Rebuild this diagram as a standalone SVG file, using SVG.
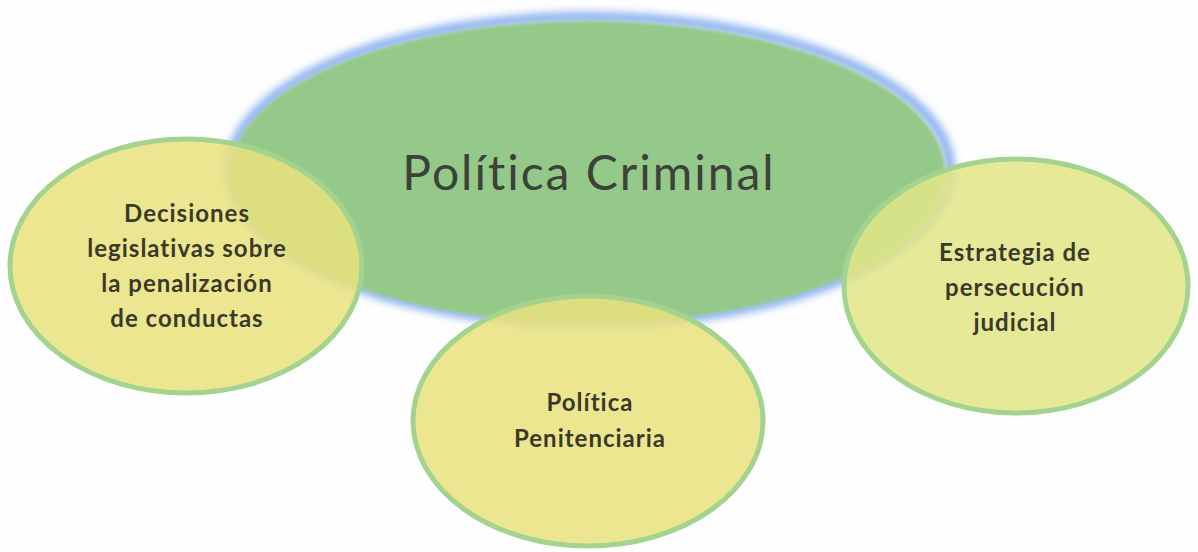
<svg xmlns="http://www.w3.org/2000/svg" width="1198" height="552" viewBox="0 0 1198 552">
<style>
.sub{fill:#e9e27c;fill-opacity:0.85;stroke:#a3d38e;stroke-width:5}
.lbl{font-family:Lato,"Open Sans","Liberation Sans",sans-serif;font-weight:700;font-size:24px;letter-spacing:1px;fill:#3b3a2a;text-anchor:middle;font-variant-ligatures:none}
.main{font-family:Lato,"Open Sans","Liberation Sans",sans-serif;font-size:48px;letter-spacing:2px;fill:#3d4238;text-anchor:middle;font-variant-ligatures:none}
</style>
<defs>
<filter id="blur" x="-10%" y="-10%" width="120%" height="120%"><feGaussianBlur stdDeviation="4"/></filter>
<filter id="soft" x="-10%" y="-10%" width="120%" height="120%"><feGaussianBlur stdDeviation="1.5"/></filter>
</defs>
<rect width="1198" height="552" fill="#fefefe"/>
<g id="politica-criminal">
<ellipse cx="590" cy="170" rx="360" ry="153" fill="none" stroke="#7aa6ec" stroke-width="9" filter="url(#blur)"/>
<ellipse cx="588" cy="172" rx="357" ry="151" fill="#94c98a" filter="url(#soft)"/>
<text class="main" x="589" y="190">Política Criminal</text>
</g>
<g id="decisiones">
<ellipse class="sub" cx="186" cy="266" rx="176" ry="127"/>
<text class="lbl" x="187" y="222">Decisiones</text>
<text class="lbl" x="187" y="257">legislativas sobre</text>
<text class="lbl" x="187" y="292">la penalización</text>
<text class="lbl" x="187" y="327">de conductas</text>
</g>
<g id="penitenciaria">
<ellipse class="sub" cx="588" cy="421" rx="175" ry="125"/>
<text class="lbl" x="590" y="411">Política</text>
<text class="lbl" x="590" y="447">Penitenciaria</text>
</g>
<g id="estrategia">
<ellipse class="sub" cx="1016" cy="286" rx="172" ry="127" style="fill:#e2e686"/>
<text class="lbl" x="1015" y="261">Estrategia de</text>
<text class="lbl" x="1015" y="296">persecución</text>
<text class="lbl" x="1015" y="331">judicial</text>
</g>
<g id="connectors"/>
</svg>
